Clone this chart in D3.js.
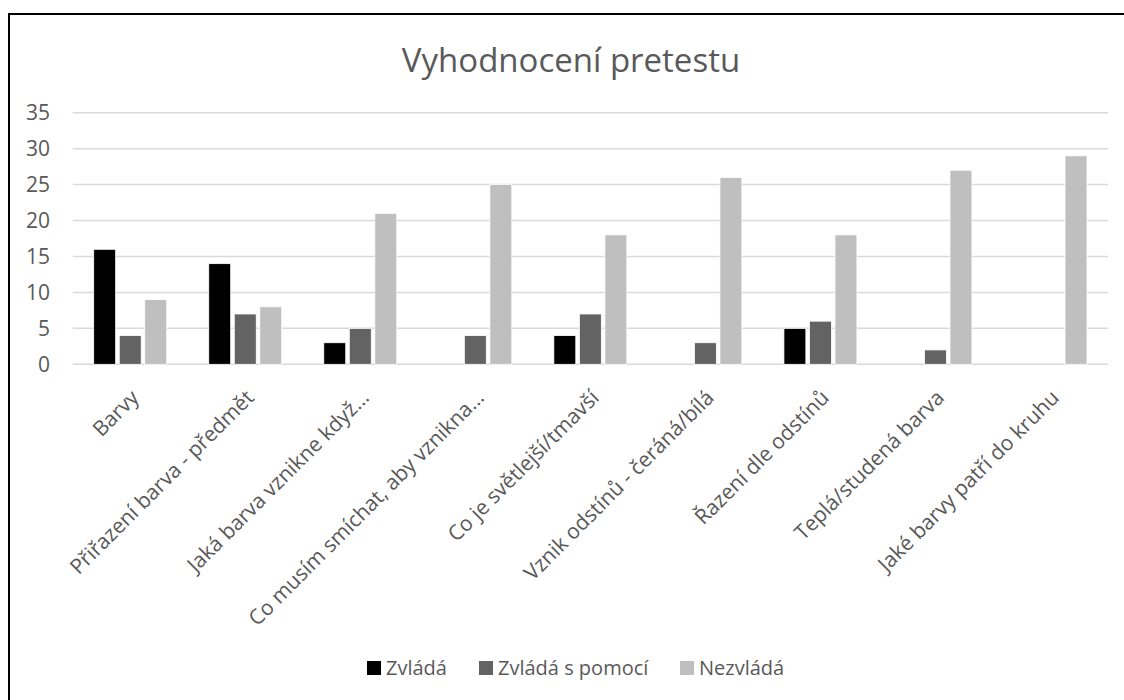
<!DOCTYPE html>
<html>
<head>
<meta charset="utf-8">
<script src="https://cdn.jsdelivr.net/npm/d3@7"></script>
<style>
  body { margin: 0; background: #fff; }
  text { font-family: "Open Sans", sans-serif; }
</style>
</head>
<body>
<div id="chart"></div>
<script>
// Data
const categories = [
  "Barvy",
  "Přiřazení barva - předmět",
  "Jaká barva vznikne když…",
  "Co musím smíchat, aby vznikna…",
  "Co je světlejší/tmavší",
  "Vznik odstínů - čeráná/bílá",
  "Řazení dle odstínů",
  "Teplá/studená barva",
  "Jaké barvy patří do kruhu"
];
const seriesNames = ["Zvládá", "Zvládá s pomocí", "Nezvládá"];
const zvlada = [16, 14, 3, 0, 4, 0, 5, 0, 0];
const sPomoci = [4, 7, 5, 4, 7, 3, 6, 2, 0];
const nezvlada = [9, 8, 21, 25, 18, 26, 18, 27, 29];
const yTicks = [0, 5, 10, 15, 20, 25, 30, 35];
const colors = ["#000000", "#636363", "#bfbfbf"];

const values = [zvlada, sPomoci, nezvlada];
const width = 1124, height = 700;
const margin = { top: 112.7, right: 16, bottom: 335.7, left: 72.7 };

const svg = d3.select("#chart").append("svg")
  .attr("width", width)
  .attr("height", height);

// chart border
svg.append("rect")
  .attr("x", 9).attr("y", 14)
  .attr("width", 1130).attr("height", 700)
  .attr("fill", "none")
  .attr("stroke", "#000")
  .attr("stroke-width", 2);

svg.append("text")
  .attr("x", 571).attr("y", 72)
  .attr("text-anchor", "middle")
  .attr("fill", "#595959")
  .style("font-size", "33px")
  .text("Vyhodnocení pretestu");

const x0 = d3.scaleBand()
  .domain(categories)
  .range([margin.left, width - margin.right]);

const groupW = 73;
const x1 = d3.scaleBand()
  .domain(seriesNames)
  .range([(x0.bandwidth() - groupW) / 2, (x0.bandwidth() + groupW) / 2])
  .paddingInner(0.14);

const y = d3.scaleLinear()
  .domain([0, 35])
  .range([height - margin.bottom, margin.top]);

// gridlines
svg.append("g")
  .selectAll("line")
  .data(yTicks)
  .join("line")
  .attr("x1", margin.left)
  .attr("x2", width - margin.right)
  .attr("y1", d => y(d))
  .attr("y2", d => y(d))
  .attr("stroke", "#d9d9d9")
  .attr("stroke-width", 1.5);

// y labels
svg.append("g")
  .selectAll("text")
  .data(yTicks)
  .join("text")
  .attr("x", 50)
  .attr("y", d => y(d))
  .attr("dy", "0.35em")
  .attr("text-anchor", "end")
  .attr("fill", "#595959")
  .style("font-size", "21px")
  .text(d => d);

// bars
const groups = svg.append("g")
  .selectAll("g")
  .data(categories)
  .join("g")
  .attr("transform", d => `translate(${x0(d)},0)`);

groups.selectAll("rect")
  .data((d, i) => seriesNames.map((s, j) => ({ s, v: values[j][i], c: colors[j] })))
  .join("rect")
  .filter(d => d.v > 0)
  .attr("x", d => x1(d.s))
  .attr("width", x1.bandwidth())
  .attr("y", d => y(d.v))
  .attr("height", d => y(0) - y(d.v))
  .attr("fill", d => d.c)
  .attr("stroke", "#ffffff")
  .attr("stroke-width", 0.8);

// x labels
svg.append("g")
  .selectAll("text")
  .data(categories)
  .join("text")
  .attr("transform", d => `translate(${x0(d) + x0.bandwidth() / 2 + 10},399) rotate(-45)`)
  .attr("text-anchor", "end")
  .attr("fill", "#595959")
  .style("font-size", "21px")
  .text(d => d);

// legend
const legendItems = [
  { name: seriesNames[0], x: 367 },
  { name: seriesNames[1], x: 479 },
  { name: seriesNames[2], x: 680 }
];
const lg = svg.append("g")
  .selectAll("g")
  .data(legendItems)
  .join("g")
  .attr("transform", d => `translate(${d.x},661)`);
lg.append("rect")
  .attr("width", 14).attr("height", 14)
  .attr("fill", (d, i) => colors[i]);
lg.append("text")
  .attr("x", 19).attr("y", 7)
  .attr("dy", "0.35em")
  .attr("fill", "#595959")
  .style("font-size", "20px")
  .text(d => d.name);
</script>
</body>
</html>
